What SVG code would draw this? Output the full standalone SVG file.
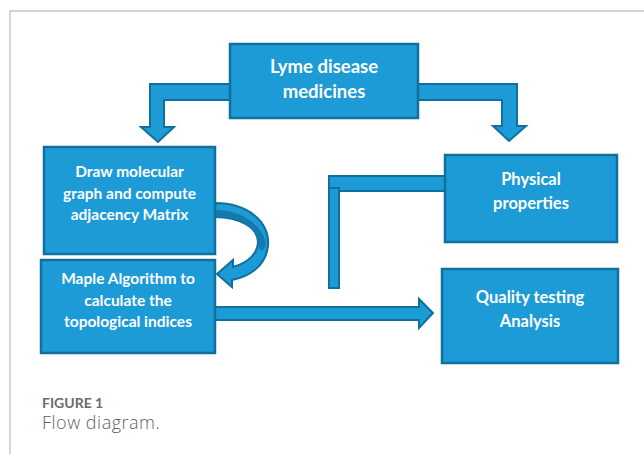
<svg xmlns="http://www.w3.org/2000/svg" width="644" height="454" viewBox="0 0 644 454">
  <defs>
    <style>
      .box { fill: #1c9bd7; stroke: #0f6f9d; stroke-width: 2.5; }
      .conn { fill: #1c9bd7; stroke: #0f6f9d; stroke-width: 2; stroke-linejoin: miter; }
      .shade { fill: #1479ad; stroke: none; }
      .lbl { font-family: Lato, "Liberation Sans", sans-serif; font-weight: 700; fill: #ffffff; text-anchor: middle; }
      .frame { fill: none; stroke: #c8c8c8; stroke-width: 1.5; }
      .cap-title { font-family: Lato, "Liberation Sans", sans-serif; font-weight: 700; font-size: 14px; fill: #6b6b6b; }
      .cap-text { font-family: "Open Sans", "Liberation Sans", sans-serif; font-weight: 300; font-size: 18px; letter-spacing: 0.5px; fill: #5f5f5f; }
    </style>
  </defs>

  <rect width="644" height="454" fill="#ffffff"/>
  <!-- figure frame -->
  <path class="frame" d="M10,454 V11 H644"/>

  <!-- connectors -->
  <g id="connectors">
    <!-- top box to left column -->
    <path class="conn" d="M231,84 H150 V127 H141 L158,142 L174,127 H164 V100 H231 Z"/>
    <!-- top box to physical properties -->
    <path class="conn" d="M417,84 H517 V126 H526 L509,141 L493,126 H502 V100 H417 Z"/>
    <!-- curved arrow: molecular graph to Maple algorithm -->
    <path class="conn" d="M215,203 C248,203 270,222 268,246 C266,265 251,276 232,280 L232,287 L217,274 L233,260 L233,267 C248,263 258,253 258,242 C258,228 240,217 215,217 Z"/>
    <path class="shade" d="M216,210 C242,210 263,226 266,244 C262,256 259,250 257,238 C253,226 238,216 216,216 Z"/>
    <!-- Maple algorithm to quality testing -->
    <path class="conn" d="M215,307 H419 V299 L433,313 L419,328 V320 H215 Z"/>
    <!-- physical properties link -->
    <path class="conn" d="M445,176 H329 V191 H445 Z"/>
    <path class="conn" d="M329,188 H339 V288 H329 Z"/>
  </g>

  <g id="node-lyme">
    <rect class="box" x="230" y="44" width="188" height="74"/>
    <text class="lbl" font-size="18.5" x="324" y="73">Lyme disease</text>
    <text class="lbl" font-size="18.5" x="324" y="98">medicines</text>
  </g>

  <g id="node-molecular">
    <rect class="box" x="44" y="147" width="171" height="107"/>
    <text class="lbl" font-size="15.5" x="129.5" y="177">Draw molecular</text>
    <text class="lbl" font-size="15.5" x="129.5" y="198.5">graph and compute</text>
    <text class="lbl" font-size="15.5" x="129.5" y="220">adjacency Matrix</text>
  </g>

  <g id="node-maple">
    <rect class="box" x="41" y="260" width="174" height="93"/>
    <text class="lbl" font-size="15.5" x="128" y="284">Maple Algorithm to</text>
    <text class="lbl" font-size="15.5" x="128" y="305.5">calculate the</text>
    <text class="lbl" font-size="15.5" x="128" y="327">topological indices</text>
  </g>

  <g id="node-physical">
    <rect class="box" x="445" y="155" width="172" height="87"/>
    <text class="lbl" font-size="16.5" x="531" y="185">Physical</text>
    <text class="lbl" font-size="16.5" x="531" y="209">properties</text>
  </g>

  <g id="node-quality">
    <rect class="box" x="442" y="269" width="176" height="94"/>
    <text class="lbl" font-size="16.5" x="530" y="303">Quality testing</text>
    <text class="lbl" font-size="16.5" x="530" y="327">Analysis</text>
  </g>

  <!-- caption -->
  <text class="cap-title" x="42" y="408">FIGURE 1</text>
  <text class="cap-text" x="42" y="429">Flow diagram.</text>
</svg>
